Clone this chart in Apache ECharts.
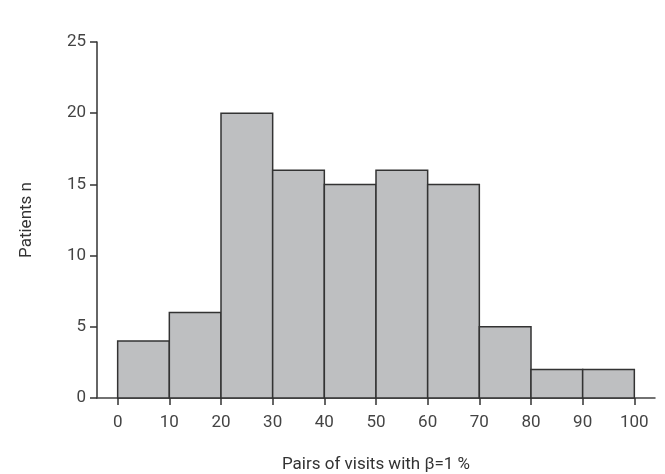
<!DOCTYPE html>
<html><head><meta charset="utf-8">
<script src="https://cdn.jsdelivr.net/npm/echarts@6/dist/echarts.min.js"></script>
<style>html,body{margin:0;padding:0;background:#fff}#c{width:665px;height:474px}</style>
</head><body><div id="c"></div>
<script>
const binStarts = [0, 10, 20, 30, 40, 50, 60, 70, 80, 90];
const binWidth = 10;
const counts = [4, 6, 20, 16, 15, 16, 15, 5, 2, 2];
const xTicks = [0, 10, 20, 30, 40, 50, 60, 70, 80, 90, 100];
const yTicks = [0, 5, 10, 15, 20, 25];

const data = binStarts.map((s, i) => [s, s + binWidth, counts[i]]);
const chart = echarts.init(document.getElementById('c'));
const font = 'Roboto, "Noto Sans", sans-serif';
chart.setOption({
  animation: false,
  grid: {left: 97, right: 10, top: 42, bottom: 76, outerBoundsMode: 'none', containLabel: false},
  xAxis: {
    type: 'value', min: -4, max: 104,
    name: 'Pairs of visits with β=1 %', nameLocation: 'middle', nameGap: 58,
    nameTextStyle: {fontFamily: font, fontSize: 17, color: '#333'},
    axisLine: {onZero: false, lineStyle: {color: '#444', width: 1.5}},
    axisTick: {customValues: xTicks, length: 7, lineStyle: {color: '#333', width: 1.5}},
    axisLabel: {customValues: xTicks, fontFamily: font, fontSize: 17, color: '#444', margin: 16},
    splitLine: {show: false}
  },
  yAxis: {
    type: 'value', min: 0, max: 25, interval: 5,
    name: 'Patients n', nameLocation: 'middle', nameGap: 62, nameRotate: 90,
    nameTextStyle: {fontFamily: font, fontSize: 17, color: '#333'},
    axisLine: {show: true, onZero: false, lineStyle: {color: '#333', width: 1.5}},
    axisTick: {show: true, length: 7, lineStyle: {color: '#333', width: 1.5}},
    axisLabel: {customValues: yTicks, fontFamily: font, fontSize: 17, color: '#444', margin: 11},
    splitLine: {show: false}
  },
  series: [{
    type: 'custom',
    data: data,
    encode: {x: [0, 1], y: 2},
    renderItem: function (params, api) {
      const p0 = api.coord([api.value(0), api.value(2)]);
      const p1 = api.coord([api.value(1), 0]);
      return {
        type: 'rect',
        shape: {x: p0[0], y: p0[1], width: p1[0] - p0[0], height: p1[1] - p0[1]},
        style: {fill: '#bebfc1', stroke: '#333', lineWidth: 1.5}
      };
    }
  }]
});
</script></body></html>
